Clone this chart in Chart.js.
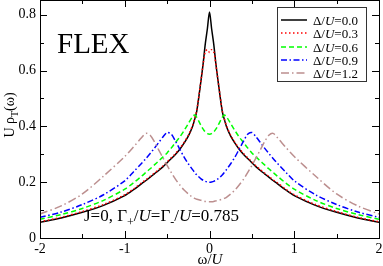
<!DOCTYPE html>
<html>
<head>
<meta charset="utf-8">
<script src="https://cdn.jsdelivr.net/npm/chart.js@4"></script>
<style>
  html, body { margin: 0; padding: 0; background: #fff; }
</style>
</head>
<body>
<canvas id="chart" width="383" height="266"></canvas>
<script>
// omega/U grid used by all curves
const omega = [-2, -1.75, -1.5, -1.25, -1, -0.9, -0.8, -0.75, -0.7, -0.65, -0.6, -0.55, -0.5, -0.45, -0.4, -0.35, -0.3, -0.25, -0.2, -0.175, -0.15, -0.1, -0.075, -0.05, -0.025,
  0, 0.025, 0.05, 0.075, 0.1, 0.15, 0.175, 0.2, 0.25, 0.3, 0.35, 0.4, 0.45, 0.5, 0.55, 0.6, 0.65, 0.7, 0.75, 0.8, 0.9, 1, 1.25, 1.5, 1.75, 2];

// U rho_T(omega) for each Delta/U
const rhoD00 = [0.056, 0.072, 0.092, 0.117, 0.152, 0.172, 0.195, 0.206, 0.218, 0.23, 0.242, 0.255, 0.27, 0.285, 0.30, 0.318, 0.34, 0.365, 0.40, 0.425, 0.455, 0.565, 0.625, 0.695, 0.75,
  0.81, 0.75, 0.695, 0.625, 0.565, 0.455, 0.425, 0.40, 0.365, 0.34, 0.318, 0.30, 0.285, 0.27, 0.255, 0.242, 0.23, 0.218, 0.206, 0.195, 0.172, 0.152, 0.117, 0.092, 0.072, 0.056];
const rhoD03 = [0.058, 0.074, 0.095, 0.12, 0.155, 0.175, 0.198, 0.209, 0.221, 0.233, 0.245, 0.258, 0.273, 0.288, 0.303, 0.321, 0.343, 0.368, 0.403, 0.428, 0.458, 0.566, 0.622, 0.668, 0.675,
  0.665, 0.675, 0.668, 0.622, 0.566, 0.458, 0.428, 0.403, 0.368, 0.343, 0.321, 0.303, 0.288, 0.273, 0.258, 0.245, 0.233, 0.221, 0.209, 0.198, 0.175, 0.155, 0.12, 0.095, 0.074, 0.058];
const rhoD06 = [0.067, 0.084, 0.106, 0.135, 0.175, 0.197, 0.222, 0.235, 0.248, 0.262, 0.276, 0.29, 0.305, 0.323, 0.343, 0.362, 0.385, 0.41, 0.435, 0.441, 0.432, 0.403, 0.39, 0.38, 0.374,
  0.372, 0.374, 0.38, 0.39, 0.403, 0.432, 0.441, 0.435, 0.41, 0.385, 0.362, 0.343, 0.323, 0.305, 0.29, 0.276, 0.262, 0.248, 0.235, 0.222, 0.197, 0.175, 0.135, 0.106, 0.084, 0.067];
const rhoD09 = [0.074, 0.093, 0.12, 0.155, 0.205, 0.236, 0.268, 0.285, 0.303, 0.322, 0.342, 0.362, 0.378, 0.372, 0.346, 0.318, 0.29, 0.266, 0.245, 0.235, 0.226, 0.212, 0.207, 0.203, 0.201,
  0.20, 0.201, 0.203, 0.207, 0.212, 0.226, 0.235, 0.245, 0.266, 0.29, 0.318, 0.346, 0.372, 0.378, 0.362, 0.342, 0.322, 0.303, 0.285, 0.268, 0.236, 0.205, 0.155, 0.12, 0.093, 0.074];
const rhoD12 = [0.086, 0.115, 0.158, 0.222, 0.292, 0.325, 0.36, 0.375, 0.368, 0.345, 0.316, 0.288, 0.26, 0.234, 0.21, 0.19, 0.172, 0.158, 0.146, 0.142, 0.139, 0.135, 0.133, 0.131, 0.13,
  0.13, 0.13, 0.131, 0.133, 0.135, 0.139, 0.142, 0.146, 0.158, 0.172, 0.19, 0.21, 0.234, 0.26, 0.288, 0.316, 0.345, 0.368, 0.375, 0.36, 0.325, 0.292, 0.222, 0.158, 0.115, 0.086];

const deltaLabels = ['0.0', '0.3', '0.6', '0.9', '1.2'];

// tick positions
const xMajor = [-2, -1, 0, 1, 2];
const xMinor = [-1.5, -0.5, 0.5, 1.5];
const yMajor = [0, 0.2, 0.4, 0.6, 0.8];
const yMinor = [0.1, 0.3, 0.5, 0.7];

const SERIF = '"Liberation Serif", "DejaVu Serif", serif';

const styles = [
  { color: '#000000', dash: [] },
  { color: '#ff0000', dash: [1.5, 2.5] },
  { color: '#00ff00', dash: [5, 3] },
  { color: '#0000ff', dash: [6, 2.5, 1.5, 2.5] },
  { color: '#bc8f8f', dash: [8, 3, 1.5, 3] }
];
const series = [rhoD00, rhoD03, rhoD06, rhoD09, rhoD12];

const datasets = series.map((vals, i) => ({
  label: 'Δ/U=' + deltaLabels[i],
  data: omega.map((w, k) => ({ x: w, y: vals[k] })),
  borderColor: styles[i].color,
  borderDash: styles[i].dash,
  borderWidth: 1.5,
  pointRadius: 0,
  tension: 0.3,
  fill: false,
  order: 5 - i
}));

function fontFor(kind, size) {
  if (kind === 'i') return 'italic ' + size + 'px ' + SERIF;
  if (kind === 'sub') return Math.round(size * 0.7) + 'px ' + SERIF;
  return size + 'px ' + SERIF;
}
function richWidth(ctx, parts, size) {
  let w = 0;
  parts.forEach(p => {
    ctx.font = fontFor(p[1], size);
    w += ctx.measureText(p[0]).width;
  });
  return w;
}
// draw text made of parts: [text, 'n' | 'i' | 'sub'], starting at x
function drawRich(ctx, parts, x, y, size, center) {
  let cx = center ? x - richWidth(ctx, parts, size) / 2 : x;
  ctx.textAlign = 'left';
  ctx.textBaseline = 'alphabetic';
  parts.forEach(p => {
    ctx.font = fontFor(p[1], size);
    const dy = p[1] === 'sub' ? size * 0.3 : 0;
    ctx.fillText(p[0], cx, y + dy);
    cx += ctx.measureText(p[0]).width;
  });
}

const decor = {
  id: 'decor',
  afterDatasetsDraw(chart) {
    const ctx = chart.ctx;
    const a = chart.chartArea;
    const xs = chart.scales.x, ys = chart.scales.y;
    ctx.save();
    ctx.strokeStyle = '#000';
    ctx.fillStyle = '#000';
    ctx.lineWidth = 1;
    ctx.setLineDash([]);
    // frame
    ctx.strokeRect(Math.round(a.left) + 0.5, Math.round(a.top) + 0.5, Math.round(a.right - a.left), Math.round(a.bottom - a.top));
    // ticks pointing inward on all four sides
    ctx.beginPath();
    const xt = (vals, len) => vals.forEach(v => {
      const px = Math.round(xs.getPixelForValue(v)) + 0.5;
      ctx.moveTo(px, a.bottom); ctx.lineTo(px, a.bottom - len);
      ctx.moveTo(px, a.top); ctx.lineTo(px, a.top + len);
    });
    const yt = (vals, len) => vals.forEach(v => {
      const py = Math.round(ys.getPixelForValue(v)) + 0.5;
      ctx.moveTo(a.left, py); ctx.lineTo(a.left + len, py);
      ctx.moveTo(a.right, py); ctx.lineTo(a.right - len, py);
    });
    xt(xMajor, 7); xt(xMinor, 4);
    yt(yMajor, 7); yt(yMinor, 4);
    ctx.stroke();

    // FLEX label
    ctx.font = '29px ' + SERIF;
    ctx.textAlign = 'left';
    ctx.textBaseline = 'alphabetic';
    ctx.fillText('FLEX', 57, 53);

    // parameter note
    drawRich(ctx, [['J=0, Γ', 'n'], ['+', 'sub'], ['/', 'n'], ['U', 'i'], ['=Γ', 'n'], ['-', 'sub'], ['/', 'n'], ['U', 'i'], ['=0.785', 'n']], 84, 221, 17, false);

    // axis titles
    drawRich(ctx, [['ω/', 'n'], ['U', 'i']], 210, 264, 15, true);
    ctx.save();
    ctx.translate(14, 115);
    ctx.rotate(-Math.PI / 2);
    drawRich(ctx, [['U ρ', 'n'], ['T', 'sub'], ['(ω)', 'n']], 0, 0, 14, true);
    ctx.restore();

    // legend box
    ctx.strokeStyle = '#333';
    ctx.strokeRect(277.5, 7.5, 89, 74);
    const rows = [20, 33, 47, 60, 73];
    rows.forEach((ry, i) => {
      ctx.strokeStyle = styles[i].color;
      ctx.lineWidth = 1.5;
      ctx.setLineDash(styles[i].dash);
      ctx.beginPath();
      ctx.moveTo(281, ry); ctx.lineTo(307, ry);
      ctx.stroke();
      ctx.setLineDash([]);
      ctx.fillStyle = '#000';
      drawRich(ctx, [['Δ/', 'n'], ['U', 'i'], ['=' + deltaLabels[i], 'n']], 313, ry + 5, 13, false);
    });
    ctx.restore();
  }
};

new Chart(document.getElementById('chart').getContext('2d'), {
  type: 'line',
  data: { datasets: datasets },
  options: {
    responsive: false,
    animation: false,
    layout: { padding: { left: 0, right: 4, top: 0, bottom: 0 } },
    plugins: { legend: { display: false }, tooltip: { enabled: false } },
    scales: {
      x: {
        type: 'linear',
        min: -2, max: 2,
        afterBuildTicks: s => { s.ticks = xMajor.map(v => ({ value: v })); },
        afterFit: s => { s.height = 28; s.paddingLeft = 0; s.paddingRight = 0; },
        grid: { display: false, drawTicks: false },
        border: { display: false },
        ticks: { color: '#000', font: { family: SERIF, size: 14 }, padding: 3, maxRotation: 0 }
      },
      y: {
        type: 'linear',
        min: 0, max: 0.853,
        afterBuildTicks: s => { s.ticks = yMajor.map(v => ({ value: v })); },
        afterFit: s => { s.width = 40; s.paddingTop = 0; s.paddingBottom = 0; },
        grid: { display: false, drawTicks: false },
        border: { display: false },
        ticks: { color: '#000', font: { family: SERIF, size: 14 }, padding: 4,
          callback: v => v === 0 ? '0' : v.toFixed(1) }
      }
    }
  },
  plugins: [decor]
});
</script>
</body>
</html>
